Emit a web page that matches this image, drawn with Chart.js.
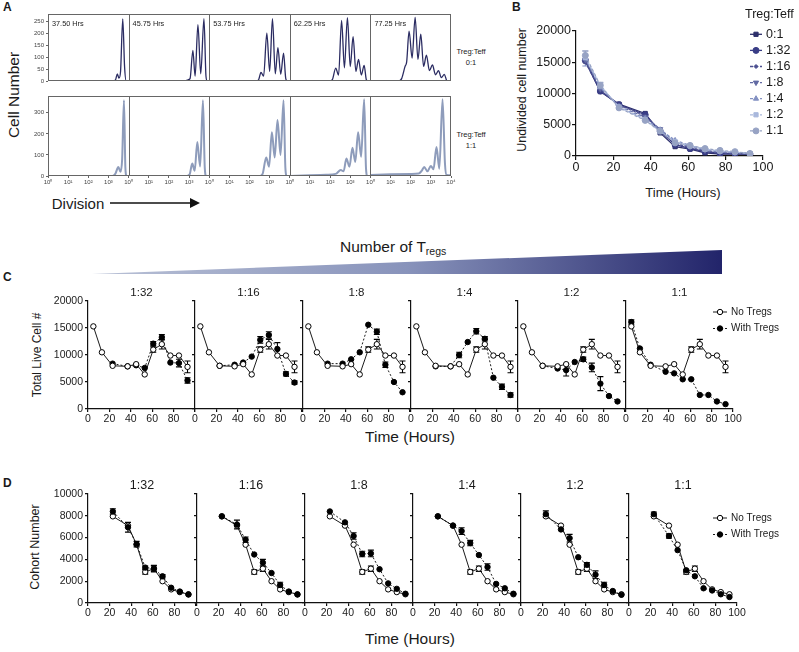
<!DOCTYPE html>
<html>
<head>
<meta charset="utf-8">
<script src="https://cdn.jsdelivr.net/npm/chart.js@4.4.0/dist/chart.umd.min.js"></script>
<style>
  body { margin: 0; background: #fff; }
  #fig { position: relative; width: 799px; height: 652px; overflow: hidden; background: #fff;
         font-family: "Liberation Sans", Arial, Helvetica, sans-serif; color: #1a1a1a; }
  #fig canvas { position: absolute; }
  .t { position: absolute; white-space: nowrap; line-height: 1; }
  .ctr { transform: translate(-50%, -50%); }
  .rot { transform: translate(-50%, -50%) rotate(-90deg); }
  .letter { font-weight: bold; font-size: 12px; }
  .wedge { position: absolute; left: 92px; top: 250px; width: 630px; height: 24px;
           background: linear-gradient(to right, #b9c1d6, #8893bb 50%, #22246a);
           clip-path: polygon(0 100%, 100% 0, 100% 100%); }
</style>
</head>
<body>
<div id="fig">
  <div class="t letter" style="left:3px;top:1px">A</div>
  <div class="t letter" style="left:512px;top:1px">B</div>
  <div class="t letter" style="left:3px;top:271px">C</div>
  <div class="t letter" style="left:3px;top:477px">D</div>

  <div class="t rot" style="left:14px;top:95px;font-size:15.5px">Cell Number</div>
  <div class="t ctr" style="left:78px;top:203px;font-size:15px">Division</div>
  <svg style="position:absolute;left:108px;top:196px" width="96" height="14">
    <line x1="2" y1="7" x2="84" y2="7" stroke="#111" stroke-width="1.3"/>
    <polygon points="82,2 92,7 82,12" fill="#111"/>
  </svg>
  <div class="t ctr" style="left:471px;top:52px;font-size:7.5px">Treg:Teff</div>
  <div class="t ctr" style="left:471px;top:63px;font-size:7.5px">0:1</div>
  <div class="t ctr" style="left:471px;top:135px;font-size:7.5px">Treg:Teff</div>
  <div class="t ctr" style="left:471px;top:146px;font-size:7.5px">1:1</div>

  <div class="t rot" style="left:522px;top:90px;font-size:12.5px">Undivided cell number</div>
  <div class="t ctr" style="left:683px;top:192px;font-size:13px">Time (Hours)</div>

  <div class="t" style="left:340px;top:239px;font-size:15.5px">Number of T<span style="font-size:10.5px;position:relative;top:3px">regs</span></div>
  <div class="wedge"></div>
  <div class="t rot" style="left:37px;top:355px;font-size:12px">Total Live Cell #</div>
  <div class="t ctr" style="left:410px;top:437px;font-size:15.5px">Time (Hours)</div>

  <div class="t rot" style="left:35px;top:547px;font-size:12.5px">Cohort Number</div>
  <div class="t ctr" style="left:410px;top:639px;font-size:15.5px">Time (Hours)</div>
</div>
<script>
// ---------- data: panel A (CFSE histograms, [log10 intensity, cell count]) ----------
const histTimes = ['37.50 Hrs', '45.75 Hrs', '53.75 Hrs', '62.25 Hrs', '77.25 Hrs'];
const decadeLabels = ['10\u2070', '10\u00b9', '10\u00b2', '10\u00b3', '10\u2074'];

const teff37 = [[0,0],[3.2,0],[3.35,5],[3.44,30],[3.52,12],[3.6,40],[3.71,260],[3.8,60],[3.88,0],[4,0]];
const teff45 = [[0,0],[2.8,0],[2.95,5],[3.05,10],[3.19,128],[3.3,20],[3.44,236],[3.58,30],[3.74,261],[3.84,20],[3.9,0],[4,0]];
const teff53 = [[0,0],[2.3,0],[2.45,5],[2.57,36],[2.7,20],[2.86,200],[3.0,40],[3.14,261],[3.28,30],[3.41,139],[3.55,28],[3.69,116],[3.8,10],[3.88,0],[4,0]];
const teff62 = [[0,0],[1.9,0],[2.1,4],[2.28,54],[2.42,25],[2.57,253],[2.71,55],[2.86,265],[3.0,60],[3.14,185],[3.28,40],[3.41,90],[3.55,25],[3.69,65],[3.8,5],[3.9,0],[4,0]];
const teff77 = [[0,0],[1.4,0],[1.55,10],[1.72,61],[1.8,80],[1.92,208],[2.07,96],[2.22,266],[2.36,90],[2.5,196],[2.64,61],[2.78,108],[2.93,43],[3.08,67],[3.23,26],[3.38,43],[3.52,14],[3.67,28],[3.78,3],[3.85,0],[4,0]];

const treg37 = [[0,0],[3.2,0],[3.35,12],[3.49,43],[3.6,20],[3.68,80],[3.77,360],[3.84,40],[3.9,0],[4,0]];
const treg45 = [[0,0],[2.9,0],[3.03,8],[3.16,59],[3.28,25],[3.41,162],[3.55,45],[3.69,360],[3.78,40],[3.85,0],[4,0]];
const treg53 = [[0,0],[2.5,0],[2.65,10],[2.83,88],[2.97,44],[3.11,208],[3.25,88],[3.39,266],[3.54,100],[3.69,360],[3.78,40],[3.85,0],[4,0]];
const treg62 = [[0,0],[1.0,3],[1.8,6],[2.28,10],[2.53,28],[2.67,22],[2.81,83],[2.96,44],[3.11,134],[3.25,67],[3.39,208],[3.54,91],[3.69,364],[3.78,40],[3.85,0],[4,0]];
const treg77 = [[0,5],[1.0,8],[2.0,10],[2.4,12],[2.55,25],[2.67,43],[2.83,22],[3.0,48],[3.13,32],[3.28,138],[3.42,35],[3.58,365],[3.7,60],[3.78,5],[4,3]];

// ---------- data: panel B (undivided cells) ----------
const timeB = [5, 13, 23, 37, 45, 53, 61, 69, 77, 85, 93];
const ratiosB = ['0:1', '1:32', '1:16', '1:8', '1:4', '1:2', '1:1'];
const undiv01 = [15200, 10300, 8300, 6800, 3700, 1500, 1100, 500, 300, 300, 300];
const undiv132 = [15300, 10400, 8200, 6600, 4000, 1800, 1200, 700, 400, 400, 300];
const undiv116 = [15000, 10500, 8200, 6400, 4100, 2000, 1300, 800, 500, 400, 300];
const undiv18 = [15400, 10800, 8000, 6200, 4300, 2200, 1500, 900, 600, 500, 400];
const undiv14 = [15600, 11000, 7900, 6000, 4200, 2500, 1700, 1000, 700, 600, 400];
const undiv12 = [15800, 11300, 7800, 5800, 3900, 2300, 1600, 1100, 800, 600, 400];
const undiv11 = [16100, 11300, 7700, 5700, 4000, 2100, 1700, 1200, 900, 700, 400];
const undiv14Err = [1200, 700, 300, 0, 0, 0, 0, 0, 0, 0, 0];
const undiv11Err = [700, 500, 0, 0, 0, 0, 0, 0, 0, 0, 0];

// ---------- data: panel C (total live cells) ----------
const ratiosCD = ['1:32', '1:16', '1:8', '1:4', '1:2', '1:1'];
const timeC = [5, 13, 23, 37, 45, 53, 61, 69, 77, 85, 93];
const liveNoTregs = [15300, 10500, 8000, 7900, 8300, 6400, 11000, 12000, 9900, 9900, 7800];
const live132 = [null, null, 8400, 7900, 8100, 7600, 12100, 13300, 8600, 8500, 5300];
const live116 = [null, null, 8000, 8200, 8600, 9700, 12800, 13700, 11100, 6500, 4900];
const live18 = [null, null, 8400, 8400, 9200, 10500, 15600, 14300, 8200, 5000, 3100];
const live14 = [null, null, 7900, 7900, 10000, 12400, 14400, 13000, 5800, 4100, 2600];
const live12 = [null, null, 8000, 7500, 7200, 8700, 9200, 7700, 4700, 2400, 1400];
const live11 = [16100, 11200, 8200, 6900, 6600, 5500, 5500, 2600, 2600, 1400, 900];
const liveNoTregsErr = [0, 0, 0, 0, 0, 0, 500, 900, 0, 0, 1100];
const live132Err = [0, 0, 0, 0, 0, 0, 400, 500, 0, 700, 500];
const live116Err = [0, 0, 0, 0, 0, 0, 600, 600, 1200, 400, 300];
const live18Err = [0, 0, 0, 0, 0, 0, 0, 500, 500, 0, 0];
const live14Err = [0, 0, 0, 0, 500, 0, 500, 400, 0, 500, 400];
const live12Err = [0, 0, 0, 0, 1100, 0, 400, 800, 1300, 0, 0];
const live11Err = [400, 0, 0, 0, 0, 0, 0, 0, 0, 0, 0];

// ---------- data: panel D (cohort number) ----------
const timeD = [23, 37, 45, 53, 61, 69, 77, 85, 93];
const cohortNoTregs = [7950, 7100, 5350, 2850, 3150, 2000, 1250, 1000, 800];
const cohort132 = [8400, 6950, 5400, 3250, 3150, 2450, 1400, 1050, 780];
const cohort116 = [7950, 7200, 5800, 4450, 3700, 2750, 1650, 1050, 780];
const cohort18 = [8400, 7400, 6150, 4500, 4550, 3100, 1800, 1300, 850];
const cohort14 = [7950, 7100, 6600, 5500, 4400, 3300, 1750, 1350, 850];
const cohort12 = [8150, 6750, 5950, 4200, 3500, 2600, 1650, 1100, 750];
const cohort11 = [8150, 6150, 4850, 3000, 2450, 1350, 1150, 800, 550];
const cohortNoTregsErr = [0, 0, 0, 200, 250, 0, 0, 0, 0];
const cohort132Err = [250, 450, 250, 150, 300, 150, 0, 0, 0];
const cohort116Err = [0, 400, 250, 0, 300, 0, 250, 0, 0];
const cohort18Err = [0, 0, 300, 250, 300, 0, 0, 0, 0];
const cohort14Err = [0, 0, 300, 250, 0, 300, 0, 0, 0];
const cohort12Err = [300, 0, 350, 0, 200, 350, 250, 0, 0];
const cohort11Err = [200, 200, 0, 0, 0, 0, 0, 0, 0];

// ---------- styles ----------
const teffColor = '#2b2c62';
const tregColor = '#8e9cbb';
const colorsB = ['#2d2f6b', '#393d86', '#4b4f90', '#626aa3', '#8391c2', '#a9b8dc', '#97a3c4'];
const shapesB = ['rect', 'circle', 'rectRot', 'triangle', 'triangle', 'rect', 'circle'];
const rotB = [0, 0, 0, 180, 0, 0, 0];
const sizeB = [3, 3, 2, 3, 3, 3, 3];
const dashB = [[], [], [3, 2], [3, 2], [3, 2], [3, 2], [3, 2]];

Chart.defaults.font.family = '"Liberation Sans", Arial, Helvetica, sans-serif';
Chart.defaults.color = '#1a1a1a';
Chart.defaults.animation = false;
Chart.defaults.responsive = false;
Chart.defaults.devicePixelRatio = 1;
Chart.defaults.plugins.legend.display = false;
Chart.defaults.plugins.tooltip.enabled = false;

const fig = document.getElementById('fig');
function addCanvas(left, top, w, h) {
    const c = document.createElement('canvas');
    c.width = w; c.height = h;
    c.style.left = left + 'px'; c.style.top = top + 'px';
    c.style.width = w + 'px'; c.style.height = h + 'px';
    fig.appendChild(c);
    return c;
}
function pts(xs, ys) {
    return xs.map((x, k) => ({ x: x, y: ys[k] }));
}

// Frame + panel separators + time stamps for the histogram rows
const histFrame = {
    id: 'histFrame',
    afterDraw(chart, args, o) {
        const ctx = chart.ctx, a = chart.chartArea, x = chart.scales.x;
        ctx.save();
        ctx.strokeStyle = '#666';
        ctx.lineWidth = 1;
        ctx.strokeRect(a.left + 0.5, a.top + 0.5, a.width - 1, a.height - 1);
        for (let i = 1; i < 5; i++) {
            const px = Math.round(x.getPixelForValue(4 * i)) + 0.5;
            ctx.beginPath(); ctx.moveTo(px, a.top); ctx.lineTo(px, a.bottom); ctx.stroke();
        }
        if (o && o.labels) {
            ctx.fillStyle = '#222';
            ctx.font = '7.3px "Liberation Sans", Arial, sans-serif';
            ctx.textBaseline = 'middle';
            o.labels.forEach((s, i) => ctx.fillText(s, x.getPixelForValue(4 * i) + 4, a.top + 10));
        }
        ctx.restore();
    }
};

// Vertical SEM bars (drawn under the markers)
const errorBars = {
    id: 'errorBars',
    beforeDatasetsDraw(chart) {
        const ctx = chart.ctx, y = chart.scales.y;
        chart.data.datasets.forEach((ds, i) => {
            if (!ds.errors) return;
            const meta = chart.getDatasetMeta(i);
            ctx.save();
            ctx.strokeStyle = ds.borderColor;
            ctx.lineWidth = 1.1;
            ds.errors.forEach((e, j) => {
                const v = ds.data[j].y;
                if (!e || v == null) return;
                const px = meta.data[j].x;
                const y1 = y.getPixelForValue(v + e), y2 = y.getPixelForValue(v - e);
                ctx.beginPath();
                ctx.moveTo(px, y1); ctx.lineTo(px, y2);
                ctx.moveTo(px - 3, y1); ctx.lineTo(px + 3, y1);
                ctx.moveTo(px - 3, y2); ctx.lineTo(px + 3, y2);
                ctx.stroke();
            });
            ctx.restore();
        });
    }
};

// Legend with line + marker, like GraphPad
const sideLegend = {
    id: 'sideLegend',
    afterDraw(chart, args, o) {
        if (!o || !o.show) return;
        const ctx = chart.ctx, a = chart.chartArea;
        ctx.save();
        ctx.font = o.size + 'px "Liberation Sans", Arial, sans-serif';
        ctx.textBaseline = 'middle';
        ctx.textAlign = 'left';
        if (o.title) {
            ctx.fillStyle = '#1a1a1a';
            ctx.fillText(o.title, a.right + o.titleDx, a.top + o.titleDy);
        }
        chart.data.datasets.forEach((ds, i) => {
            const x = a.right + o.dx, y = a.top + o.dy + i * o.step;
            ctx.strokeStyle = ds.borderColor;
            ctx.lineWidth = ds.borderWidth;
            ctx.setLineDash(ds.borderDash || []);
            ctx.beginPath(); ctx.moveTo(x - o.half, y); ctx.lineTo(x + o.half, y); ctx.stroke();
            ctx.setLineDash([]);
            ctx.fillStyle = ds.pointBackgroundColor;
            ctx.strokeStyle = ds.pointBorderColor;
            ctx.lineWidth = ds.pointBorderWidth;
            Chart.helpers.drawPoint(ctx, {
                pointStyle: ds.pointStyle, rotation: ds.pointRotation || 0,
                radius: ds.pointRadius, borderWidth: ds.pointBorderWidth
            }, x, y);
            ctx.fillStyle = '#1a1a1a';
            ctx.fillText(ds.label, x + o.textGap, y);
        });
        ctx.restore();
    }
};

const panelTitle = {
    id: 'panelTitle',
    afterDraw(chart, args, o) {
        if (!o || !o.text) return;
        const ctx = chart.ctx, a = chart.chartArea;
        ctx.save();
        ctx.font = o.size + 'px "Liberation Sans", Arial, sans-serif';
        ctx.fillStyle = '#1a1a1a';
        ctx.textAlign = 'center';
        ctx.textBaseline = 'middle';
        ctx.fillText(o.text, (a.left + a.right) / 2, a.top - o.gap);
        ctx.restore();
    }
};

// ---------- panel A ----------
function histRow(canvas, rows, color, width, yMax, yStep, showX, pad, labels) {
    new Chart(canvas, {
        type: 'line',
        data: {
            datasets: rows.map((h, i) => ({
                data: h.map(p => ({ x: p[0] + 4 * i, y: p[1] })),
                borderColor: color, borderWidth: width, pointRadius: 0,
                cubicInterpolationMode: 'monotone', fill: false
            }))
        },
        options: {
            layout: { padding: pad },
            scales: {
                x: {
                    type: 'linear', min: 0, max: 20, display: showX,
                    afterFit: s => { s.height = 14; },
                    border: { display: false },
                    grid: { drawOnChartArea: false, tickLength: 2, color: '#666' },
                    ticks: {
                        stepSize: 1, padding: 1, maxRotation: 0, autoSkip: false,
                        font: { size: 6 }, color: '#444',
                        callback: v => (v === 20 ? decadeLabels[4] : decadeLabels[v % 4])
                    }
                },
                y: {
                    min: 0, max: yMax,
                    afterFit: s => { s.width = 48; },
                    border: { display: false },
                    grid: { drawOnChartArea: false, tickLength: 2, color: '#666' },
                    ticks: { stepSize: yStep, includeBounds: false, padding: 2, font: { size: 6 }, color: '#444' }
                }
            },
            plugins: { histFrame: { labels: labels } }
        },
        plugins: [histFrame]
    });
}
histRow(addCanvas(0, 0, 460, 100), [teff37, teff45, teff53, teff62, teff77], teffColor, 1.3, 280, 50, false,
        { left: 0, right: 9, top: 14, bottom: 5 }, histTimes);
histRow(addCanvas(0, 90, 460, 100), [treg37, treg45, treg53, treg62, treg77], tregColor, 2, 380, 100, true,
        { left: 0, right: 9, top: 6, bottom: 0 }, null);

// ---------- shared GraphPad-like axis ----------
function gpAxis(min, max, step, size, tickLen, pad, fit, cb) {
    return {
        type: 'linear', min: min, max: max, afterFit: fit,
        border: { display: true, color: '#111', width: 1.2 },
        grid: { drawOnChartArea: false, tickLength: tickLen, color: '#111', lineWidth: 1.2 },
        ticks: { stepSize: step, padding: pad, maxRotation: 0, autoSkip: false,
                 font: { size: size }, color: '#1a1a1a', callback: cb }
    };
}

// ---------- panel B ----------
const undivSeries = [undiv01, undiv132, undiv116, undiv18, undiv14, undiv12, undiv11];
const undivErr = [null, null, null, null, undiv14Err, null, undiv11Err];
new Chart(addCanvas(510, 0, 289, 200), {
    type: 'line',
    data: {
        datasets: undivSeries.map((vals, i) => ({
            label: ratiosB[i],
            data: pts(timeB, vals),
            errors: undivErr[i],
            order: ratiosB.length - i,
            borderColor: colorsB[i], borderWidth: 1.3, borderDash: dashB[i],
            pointStyle: shapesB[i], pointRotation: rotB[i], pointRadius: sizeB[i],
            pointBackgroundColor: colorsB[i], pointBorderColor: colorsB[i], pointBorderWidth: 1,
            tension: 0
        }))
    },
    options: {
        layout: { padding: { left: 0, right: 36, top: 31, bottom: 0 } },
        scales: {
            x: gpAxis(0, 100, 20, 12.5, 4, 0, s => { s.height = 44; }),
            y: gpAxis(0, 20000, 5000, 12.5, 4, 1, s => { s.width = 66; })
        },
        plugins: {
            sideLegend: { show: true, size: 12.5, title: 'Treg:Teff', titleDx: -18, titleDy: -16,
                          dx: -7, dy: 3.3, step: 16.1, half: 6, textGap: 10 }
        }
    },
    plugins: [errorBars, sideLegend]
});

// ---------- panels C and D ----------
function timePanel(o) {
    const last = o.index === ratiosCD.length - 1;
    const padR = last ? o.lastPadR : 12;
    const canvas = addCanvas(o.left - 44, o.top - 24, 44 + o.plotW + padR, 24 + o.plotH + 22);
    const ctrl = {
        label: 'No Tregs', data: pts(o.times, o.ctrl), errors: o.ctrlErr,
        order: o.ctrlOnTop ? 0 : 1,
        borderColor: '#000', borderWidth: 0.9, borderDash: [],
        pointStyle: 'circle', pointRadius: 2.7,
        pointBackgroundColor: '#fff', pointBorderColor: '#000', pointBorderWidth: 1
    };
    const treg = {
        label: 'With Tregs', data: pts(o.times, o.treg), errors: o.tregErr,
        order: o.ctrlOnTop ? 1 : 0,
        borderColor: '#000', borderWidth: 0.9, borderDash: [2, 2],
        pointStyle: 'circle', pointRadius: 2.7,
        pointBackgroundColor: '#000', pointBorderColor: '#000', pointBorderWidth: 1
    };
    new Chart(canvas, {
        type: 'line',
        data: { datasets: [ctrl, treg] },
        options: {
            layout: { padding: { left: 0, right: padR, top: 24, bottom: 0 } },
            scales: {
                x: gpAxis(0, 100, 20, 10.5, 3, 1, s => { s.height = 22; },
                          v => (v === 100 && !last ? '' : v)),
                y: gpAxis(0, o.yMax, o.yStep, 10.5, 3, 2, s => { s.width = 44; },
                          v => (o.index === 0 ? v : ''))
            },
            plugins: {
                panelTitle: { text: ratiosCD[o.index], size: o.titleSize, gap: o.titleGap },
                sideLegend: { show: last, size: 10, dx: o.legDx, dy: o.legDy, step: 16.5,
                              half: 7, textGap: 11 }
            }
        },
        plugins: [errorBars, panelTitle, sideLegend]
    });
}

const liveTreg = [live132, live116, live18, live14, live12, live11];
const liveTregErr = [live132Err, live116Err, live18Err, live14Err, live12Err, live11Err];
const leftC = [88, 195, 303, 411, 518, 626];
liveTreg.forEach((vals, i) => timePanel({
    index: i, left: leftC[i], top: 301, plotW: 107, plotH: 108, lastPadR: 66,
    times: timeC, ctrl: liveNoTregs, ctrlErr: liveNoTregsErr, treg: vals, tregErr: liveTregErr[i],
    ctrlOnTop: true, yMax: 20000, yStep: 5000, titleSize: 11.5, titleGap: 8,
    legDx: -13, legDy: 11
}));

const cohortTreg = [cohort132, cohort116, cohort18, cohort14, cohort12, cohort11];
const cohortTregErr = [cohort132Err, cohort116Err, cohort18Err, cohort14Err, cohort12Err, cohort11Err];
const leftD = [88, 197, 305, 413, 521, 629];
cohortTreg.forEach((vals, i) => timePanel({
    index: i, left: leftD[i], top: 494, plotW: 108, plotH: 109, lastPadR: 62,
    times: timeD, ctrl: cohortNoTregs, ctrlErr: cohortNoTregsErr, treg: vals, tregErr: cohortTregErr[i],
    ctrlOnTop: false, yMax: 10000, yStep: 2000, titleSize: 12.5, titleGap: 8,
    legDx: -17, legDy: 24
}));
</script>
</body>
</html>
